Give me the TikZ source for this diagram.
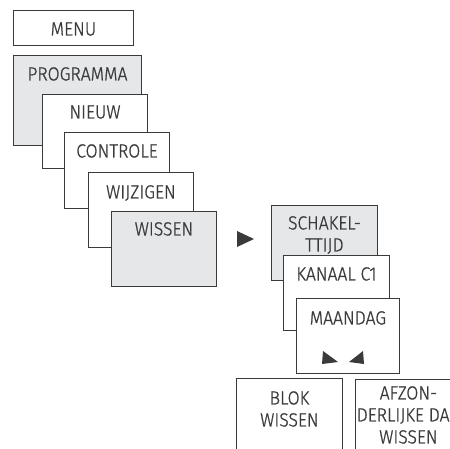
\documentclass[tikz,border=0pt]{standalone}
\usepackage{fontspec}
\setmainfont{Fira Sans}[UprightFont=* Light, FakeStretch=0.92, FakeBold=1]
\usepackage{tikz}
\usetikzlibrary{positioning}
\definecolor{menugrey}{HTML}{E6E7E9}
\definecolor{menuline}{HTML}{3A3A3A}
\tikzset{menubox/.style={rectangle, draw=menuline, line width=0.9pt, fill=white, anchor=north west, minimum width=105pt, minimum height=75pt, inner sep=0pt, text=menuline, font=\fontsize{19}{22}\selectfont, align=center, text height=25pt, text depth=50pt},
	active/.style={fill=menugrey}}

\begin{document}
\begin{tikzpicture}[x=1pt,y=-1pt]
		\useasboundingbox (0,0) rectangle (450,448);
		\clip (0,0) rectangle (450,448);
		% main menu column
		\node[menubox, minimum width=120pt, minimum height=35pt, text depth=10pt] (menu) at (13,10) {MENU};
		\node[menubox, active, minimum width=128pt, minimum height=90pt, text depth=65pt] (prog) at (13,55) {PROGRAMMA};
		\node[menubox, minimum height=74pt, text height=24pt] (nieuw) at (42,94) {NIEUW};
		\node[menubox, minimum height=76pt, text depth=51pt] (contr) at (64,132) {CONTROLE};
		\node[menubox, text height=26pt, text depth=49pt] (wijz) at (88,172) {WIJZIGEN};
		\node[menubox, active, text height=24pt, text depth=51pt] (wissen) at (111,211) {WISSEN};
		\fill[menuline] (237,231) -- (254,239) -- (237,247) -- cycle;
		% submenu
		\node[menubox, active, minimum width=106pt, text height=46pt, text depth=29pt] (schak) at (271,205) {SCHAKEL-\\TTIJD};
		\node[menubox, minimum width=106pt] (kanaal) at (283,255) {KANAAL C1};
		\node[menubox, minimum width=103pt, text height=26pt, text depth=49pt] (maandag) at (296,298) {MAANDAG};
		\fill[menuline] (323,351) -- (338,362) -- (322,364) -- cycle;
		\fill[menuline] (363,351) -- (364,364) -- (349,362) -- cycle;
		% choices
		\node[menubox, minimum width=106pt, minimum height=90pt, text height=48pt, text depth=42pt] (blok) at (236,378) {BLOK\\WISSEN};
		\node[menubox, minimum width=106pt, minimum height=90pt, text height=64pt, text depth=26pt] (afzon) at (355,379) {AFZON-\\DERLIJKE DAG\\WISSEN};
		\end{tikzpicture}
\end{document}
